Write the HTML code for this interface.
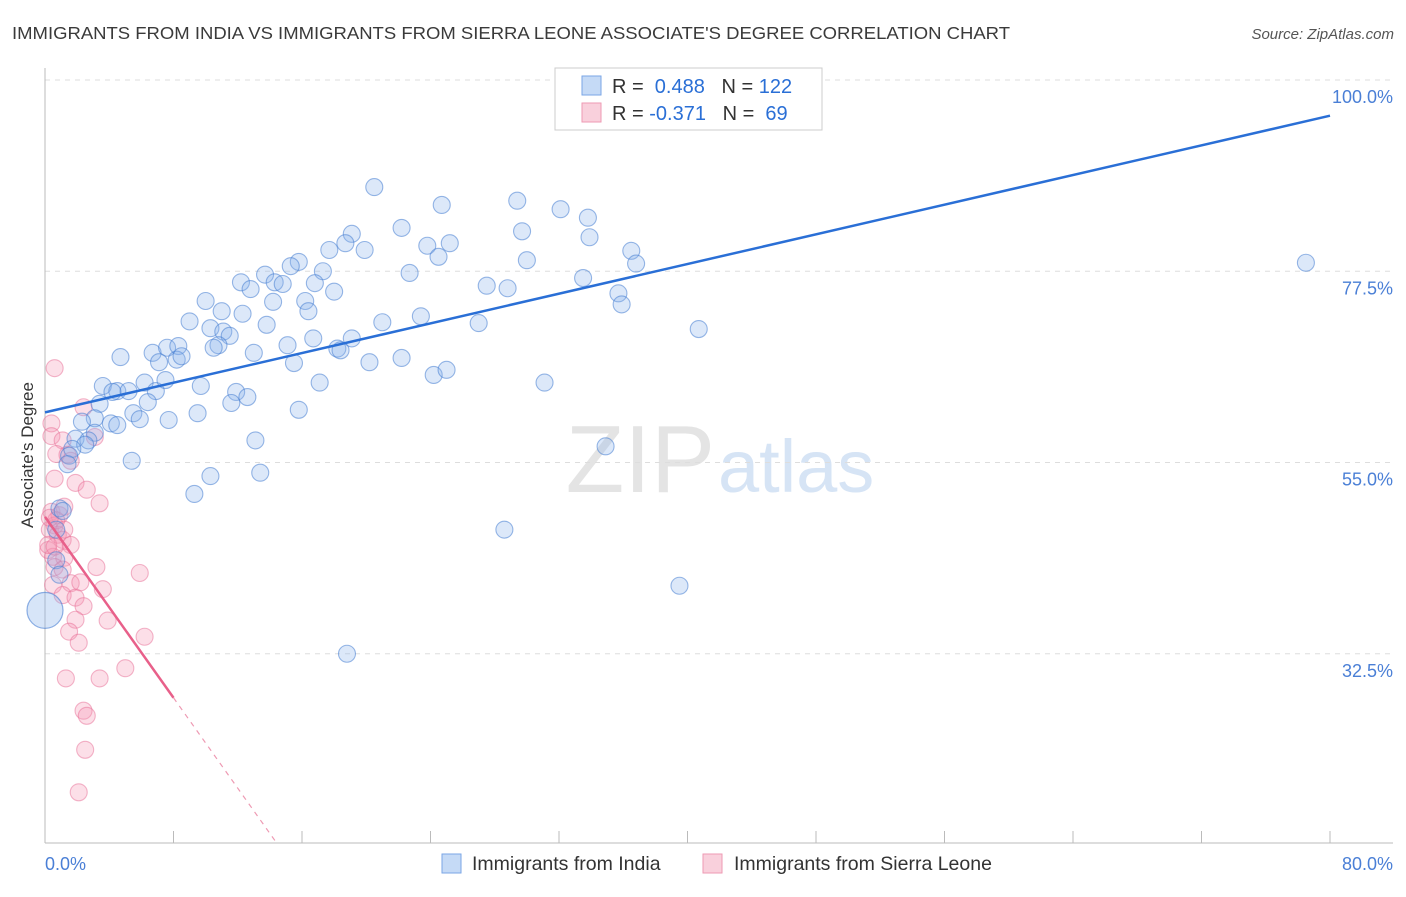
<!DOCTYPE html>
<html><head><meta charset="utf-8"><style>
body{margin:0;background:#fff;font-family:"Liberation Sans",sans-serif}
svg text{font-family:"Liberation Sans",sans-serif}
</style></head><body>
<svg id="c" width="1406" height="892" xmlns="http://www.w3.org/2000/svg">
<text x="12" y="39" font-size="17.5" fill="#3a3a3a" textLength="998" lengthAdjust="spacingAndGlyphs">IMMIGRANTS FROM INDIA VS IMMIGRANTS FROM SIERRA LEONE ASSOCIATE'S DEGREE CORRELATION CHART</text>
<text x="1394" y="39" font-size="15" fill="#555" font-style="italic" text-anchor="end">Source: ZipAtlas.com</text>
<text x="715" y="492" font-size="96" fill="#e4e4e4" text-anchor="end" font-family="Liberation Serif">ZIP</text>
<text x="718" y="492" font-size="74" fill="#d6e4f5">atlas</text>
<g id="grid"></g>
<g id="pts"></g>
<g id="lines"></g>
<text transform="translate(33,455) rotate(-90)" font-size="17" fill="#333" text-anchor="middle">Associate's Degree</text>
<g>
<rect x="555" y="68" width="267" height="62" fill="#fff" stroke="#ccc"/>
<rect x="582" y="76" width="19" height="19" fill="#c5daf6" stroke="#7aa6e6"/>
<rect x="582" y="103" width="19" height="19" fill="#f9d0dc" stroke="#ee9ab3"/>
<text x="612" y="93" font-size="20" fill="#333">R = <tspan fill="#2a6fd6">&#160;0.488</tspan>&#160;&#160;&#160;N = <tspan fill="#2a6fd6">122</tspan></text>
<text x="612" y="120" font-size="20" fill="#333">R = <tspan fill="#2a6fd6">-0.371</tspan>&#160;&#160;&#160;N = <tspan fill="#2a6fd6">&#160;69</tspan></text>
</g>
<g>
<rect x="442" y="854" width="19" height="19" fill="#c5daf6" stroke="#7aa6e6"/>
<text x="472" y="870" font-size="19.5" fill="#333">Immigrants from India</text>
<rect x="703" y="854" width="19" height="19" fill="#f9d0dc" stroke="#ee9ab3"/>
<text x="734" y="870" font-size="19.5" fill="#333">Immigrants from Sierra Leone</text>
</g>
</svg>
<script>
const indiaX=[20.5,24.7,29.4,32.1,33.8,22.2,19.1,29.7,33.9,18.7,17.7,19.9,23.8,25.2,36.5,24.5,30.0,36.8,15.8,15.3,13.7,12.2,17.3,22.7,33.5,78.5,12.8,14.3,14.8,16.8,27.5,28.8,35.7,10.0,16.2,18.0,9.0,11.0,12.3,14.2,35.9,10.3,13.8,16.4,21.0,23.4,27.0,40.7,11.1,11.5,10.8,10.5,15.1,16.7,19.1,18.2,18.4,20.2,22.2,15.5,4.7,6.7,7.6,8.3,7.1,8.2,8.5,13.0,24.2,25.0,31.1,3.6,4.5,5.2,6.2,6.9,7.5,9.7,11.9,12.6,17.1,4.2,11.6,6.4,3.4,5.5,5.9,7.7,9.5,15.8,3.1,2.3,4.1,4.5,3.1,1.9,2.7,2.5,5.4,13.1,34.9,10.3,13.4,9.3,1.7,1.5,1.4,28.6,39.5,18.8,0.9,1.1,0.7,0.7,0.9];
const indiaY=[87.4,85.3,85.8,84.8,83.8,82.6,81.9,82.2,81.5,80.8,80.0,80.0,80.5,80.8,79.9,79.2,78.8,78.4,78.6,78.1,77.1,76.2,77.5,77.3,76.7,78.5,75.4,76.2,76.0,76.1,75.8,75.5,74.9,74.0,74.0,75.1,71.6,72.8,72.5,73.9,73.6,70.8,71.2,72.8,71.5,72.2,71.4,70.7,70.4,69.9,68.8,68.5,68.8,69.6,69.6,68.4,68.2,66.8,67.3,66.7,67.4,67.9,68.5,68.7,66.8,67.1,67.5,67.9,65.3,65.9,64.4,64.0,63.4,63.4,64.4,63.4,64.7,64.0,63.3,62.7,64.4,63.3,62.0,62.1,61.9,60.8,60.1,60.0,60.8,61.2,60.2,59.8,59.6,59.4,58.5,57.8,57.6,57.1,55.2,57.6,56.9,53.4,53.8,51.3,56.6,55.8,54.8,47.1,40.5,32.5,49.6,49.3,47.1,43.5,41.8];
const slX=[0.6,2.4,0.4,0.4,1.1,3.1,0.7,1.4,1.6,0.6,1.9,2.6,3.4,0.4,0.9,1.2,0.6,0.3,0.8,1.1,1.6,0.2,0.5,1.2,0.6,1.1,3.2,5.9,0.5,1.6,2.2,3.6,1.1,1.9,2.4,1.9,3.9,1.5,2.1,6.2,5.0,1.3,3.4,2.4,2.6,2.5,2.1,0.2,0.6,0.7,1.2,0.3];
const slY=[66.1,61.5,59.6,58.1,57.6,58.0,56.0,55.9,55.2,53.1,52.6,51.8,50.2,49.2,48.8,49.8,47.6,47.1,46.5,45.9,45.3,44.7,43.9,43.8,42.7,42.4,42.7,42.0,40.6,40.8,40.9,40.1,39.4,39.1,38.1,36.5,36.4,35.1,33.8,34.5,30.8,29.6,29.6,25.8,25.2,21.2,16.2,45.3,45.1,48.2,47.1,48.5];
const yTicks=[32.5,55.0,77.5,100.0];
const xTickLabels=["0.0%","80.0%"];
const indiaTrend=[60.9,95.8];
const slTrend=[48.6,-2.66];
const X=v=>45+v*1285/80, Y=v=>80+(100-v)*8.5;
const NS="http://www.w3.org/2000/svg";
function mk(t,a,p){const e=document.createElementNS(NS,t);for(const k in a)e.setAttribute(k,a[k]);p.appendChild(e);return e;}
const g=document.getElementById('grid'),pts=document.getElementById('pts'),ln=document.getElementById('lines'),svg=document.getElementById('c');
yTicks.forEach(v=>{const l=mk('line',{x1:45,x2:1393,y1:Y(v),y2:Y(v),stroke:'#ddd','stroke-dasharray':'5,5'},g);


const t=mk('text',{x:1393,y:Y(v)+23,'font-size':18,fill:'#4a7fd6','text-anchor':'end'},svg);t.textContent=v.toFixed(1)+'%';

});
const ax=mk('line',{x1:45,x2:45,y1:68,y2:843,stroke:'#bbb'},g);


const bx=mk('line',{x1:45,x2:1393,y1:843,y2:843,stroke:'#bbb'},g);


for(let i=0;i<=10;i++){const t=mk('line',{x1:X(i*8),x2:X(i*8),y1:831,y2:843,stroke:'#bbb'},g);

}
const xl1=mk('text',{x:45,y:870,'font-size':18,fill:'#4a7fd6'},svg);xl1.textContent=xTickLabels[0];


const xl2=mk('text',{x:1393,y:870,'font-size':18,fill:'#4a7fd6','text-anchor':'end'},svg);xl2.textContent=xTickLabels[1];


slX.forEach((x,i)=>{const c=mk('circle',{cx:X(x),cy:Y(slY[i]),r:8.5,fill:'rgba(244,150,178,0.3)',stroke:'rgba(232,110,150,0.5)','stroke-width':1.1},pts);

});
indiaX.forEach((x,i)=>{const c=mk('circle',{cx:X(x),cy:Y(indiaY[i]),r:8.5,fill:'rgba(140,180,235,0.3)',stroke:'rgba(70,125,210,0.55)','stroke-width':1.1},pts);

});
const big=mk('circle',{cx:X(0),cy:Y(37.6),r:18,fill:'rgba(140,180,235,0.35)',stroke:'rgba(70,125,210,0.6)','stroke-width':1.2},pts);


const bl=mk('line',{x1:X(0),y1:Y(indiaTrend[0]),x2:X(80),y2:Y(indiaTrend[1]),stroke:'#2a6fd6','stroke-width':2.5},ln);


const pl=mk('line',{x1:X(0),y1:Y(slTrend[0]),x2:X(8),y2:Y(slTrend[0]+slTrend[1]*8),stroke:'#e8608a','stroke-width':2.5},ln);


const xe=(10.24-slTrend[0])/slTrend[1];
const pd=mk('line',{x1:X(8),y1:Y(slTrend[0]+slTrend[1]*8),x2:X(xe),y2:Y(10.24),stroke:'#ee9ab3','stroke-width':1.2,'stroke-dasharray':'5,5'},ln);


</script>
</body></html>
